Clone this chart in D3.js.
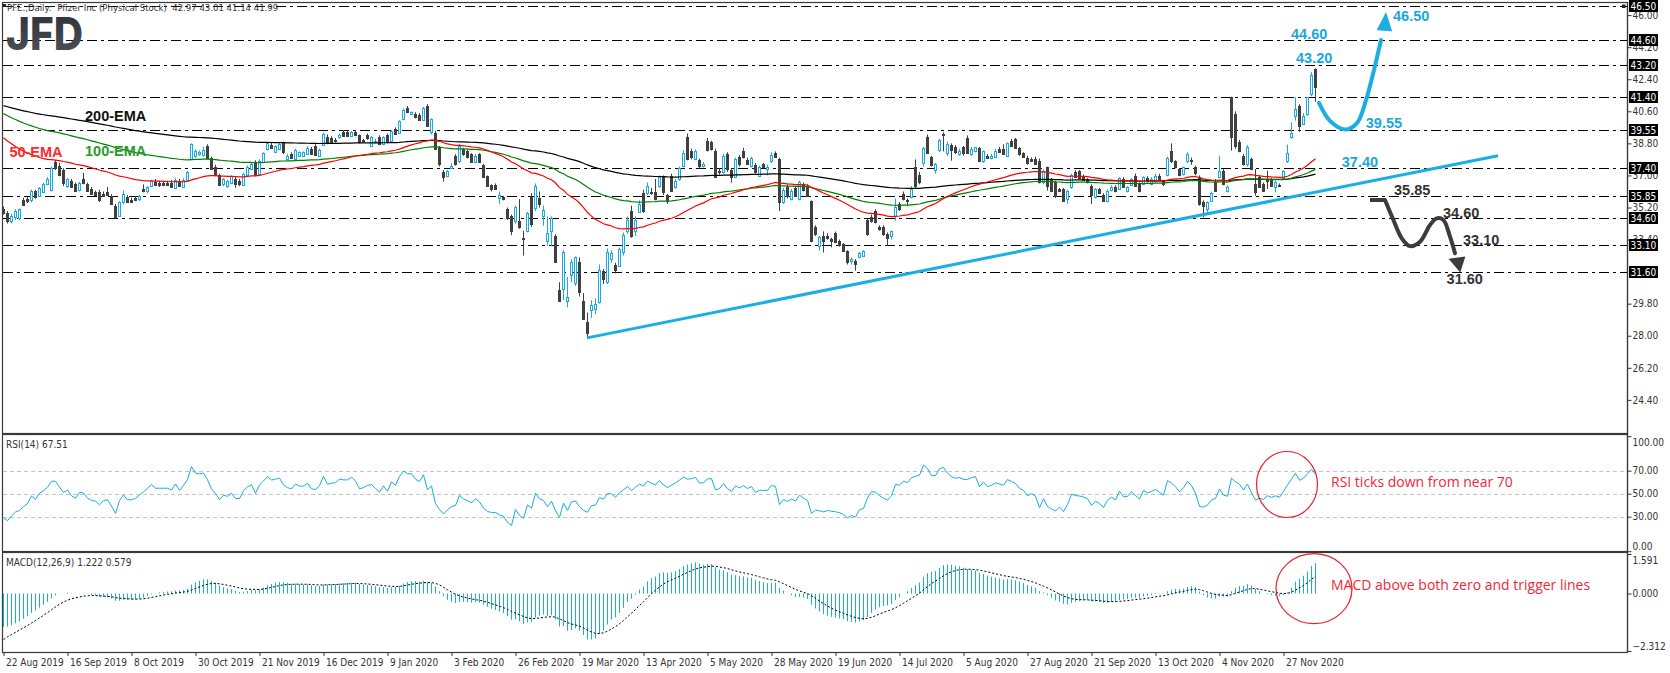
<!DOCTYPE html>
<html><head><meta charset="utf-8">
<script src="https://cdn.jsdelivr.net/npm/d3@7/dist/d3.min.js"></script>
<style>
html,body{margin:0;padding:0;background:#fff;}
svg{display:block;}
text{font-family:"DejaVu Sans Condensed","DejaVu Sans",sans-serif;}
</style></head><body>
<svg id="chart" width="1670" height="673"></svg>
<script>
// ---------- DATA ----------
const tickLabels = ["22 Aug 2019","16 Sep 2019","8 Oct 2019","30 Oct 2019","21 Nov 2019","16 Dec 2019","9 Jan 2020","3 Feb 2020","26 Feb 2020","19 Mar 2020","13 Apr 2020","5 May 2020","28 May 2020","19 Jun 2020","14 Jul 2020","5 Aug 2020","27 Aug 2020","21 Sep 2020","13 Oct 2020","4 Nov 2020","27 Nov 2020"];
const tickBars = [0,16,32,48,64,80,96,112,128,144,160,176,192,208,224,240,256,272,288,304,320];

const opens = [
35.10,34.90,34.45,34.65,34.60,35.60,35.65,35.60,36.10,35.85,
36.05,36.50,36.20,37.75,37.55,37.30,36.40,36.70,36.50,36.20,
36.80,36.50,36.25,36.05,36.05,35.95,36.05,35.85,35.30,34.75,
35.50,35.80,35.60,35.75,35.65,36.25,36.10,36.40,36.65,36.60,
36.60,36.60,36.60,36.30,36.70,36.35,36.75,37.90,38.10,38.20,
38.15,38.65,38.00,37.50,37.00,36.50,36.40,36.60,36.80,36.70,
36.45,37.00,37.35,37.75,37.10,37.75,38.50,38.70,38.30,38.50,
38.85,37.95,38.20,37.90,38.10,38.10,38.20,38.50,38.65,38.10,
38.70,39.15,39.10,39.00,39.14,39.45,39.42,39.23,39.45,39.27,
38.98,39.25,38.67,38.86,39.14,38.76,39.27,38.95,39.60,39.40,
40.17,40.76,40.45,40.45,40.39,40.13,40.91,39.45,39.38,38.57,
37.17,36.95,37.40,38.11,37.83,38.48,38.39,38.20,37.77,38.20,
37.58,36.95,36.46,36.46,35.71,35.77,35.11,34.74,34.46,34.46,
33.50,33.90,35.77,35.15,35.71,34.70,33.33,33.90,33.62,30.56,
30.62,29.97,31.43,30.96,32.15,29.97,28.75,29.46,29.50,29.87,
31.65,31.03,32.30,31.97,31.93,32.68,33.90,34.98,33.90,34.93,
36.01,36.01,36.05,36.09,36.38,36.93,35.92,36.99,36.33,36.80,
37.55,39.18,38.39,37.92,37.87,37.55,38.92,38.86,38.35,37.27,
37.17,38.20,37.31,36.89,38.02,38.39,37.87,37.55,37.61,36.99,
37.64,37.36,37.83,38.24,37.90,35.49,36.37,35.68,36.30,35.68,
36.52,36.43,35.55,34.09,33.06,33.62,33.62,33.43,33.75,33.34,
33.15,32.74,32.21,32.21,32.40,32.50,34.50,34.69,34.98,34.09,
34.09,33.71,33.62,34.74,35.40,35.96,35.62,35.77,37.49,37.04,
37.68,39.18,38.02,37.31,38.43,39.32,38.24,38.73,38.62,38.20,
38.58,39.10,38.20,38.39,38.54,37.83,38.11,37.98,38.05,38.49,
38.49,38.11,38.92,39.05,38.54,38.24,37.98,37.92,37.92,37.83,
36.62,37.46,36.80,36.62,36.24,36.24,35.68,36.33,37.18,37.23,
36.99,36.80,36.43,35.77,36.24,35.92,35.58,36.18,36.37,36.24,
36.80,36.11,36.48,36.99,36.52,36.52,36.86,36.52,36.71,36.99,
36.71,37.04,38.39,37.79,37.36,37.08,37.79,37.87,37.46,36.90,
35.49,35.12,35.58,36.62,36.93,37.23,36.15,41.39,40.45,38.86,
38.11,37.64,37.92,36.52,36.90,36.52,36.80,36.80,36.33,36.48,
36.86,37.79,39.18,40.36,40.90,39.90,40.45,41.55,42.97];

const highs = [
35.25,35.00,34.85,35.10,35.15,35.75,35.80,36.20,36.20,36.35,
36.60,36.90,37.50,37.85,37.70,37.40,36.85,36.80,36.60,36.65,
37.15,36.60,36.35,36.15,36.20,36.10,36.35,35.95,35.40,35.55,
36.15,35.90,35.75,35.85,35.90,36.50,36.40,36.75,36.80,36.70,
36.70,36.70,36.75,36.85,36.80,36.85,37.25,38.80,38.45,38.40,
38.60,38.75,38.05,37.60,37.10,36.85,36.75,37.00,36.90,36.80,
37.15,37.55,37.75,37.85,37.90,38.30,38.85,38.85,38.70,38.85,
38.90,38.20,38.30,38.50,38.35,38.35,38.65,38.60,38.75,38.50,
39.40,39.30,39.20,39.10,39.35,39.55,39.50,39.50,39.55,39.30,
39.05,39.35,39.20,39.05,39.25,39.20,39.35,39.55,39.70,40.10,
40.75,40.90,40.60,40.55,40.50,40.85,41.00,40.20,39.50,38.65,
37.30,37.30,37.70,38.20,38.75,38.55,38.45,38.25,38.20,38.25,
37.65,37.00,36.50,36.55,36.10,35.85,35.20,34.80,35.30,35.67,
33.90,34.95,36.00,36.55,36.10,35.30,34.70,34.70,33.70,31.00,
32.80,31.30,32.30,32.45,32.40,30.40,29.30,30.00,30.10,32.00,
31.75,32.90,32.80,32.10,32.95,33.80,34.70,35.30,34.70,35.60,
36.20,36.60,36.30,36.80,37.00,37.00,35.96,37.10,36.80,37.50,
38.40,39.35,38.50,38.45,37.95,37.75,39.10,38.95,38.50,37.40,
38.20,38.30,37.40,38.00,38.15,38.55,38.00,38.05,37.70,37.55,
37.70,37.60,38.30,38.35,38.00,36.30,36.50,36.25,36.40,36.70,
36.60,36.50,35.60,34.20,33.60,33.86,33.75,33.50,33.85,33.40,
33.20,32.80,32.40,32.30,32.70,32.80,34.55,34.80,35.10,34.20,
34.20,33.80,33.90,35.70,35.50,36.10,35.70,36.40,37.90,37.20,
38.60,39.30,38.10,37.70,39.05,39.42,38.90,38.80,38.70,38.50,
38.65,39.25,38.60,38.60,38.60,38.40,38.20,38.20,38.50,38.60,
38.75,38.85,39.05,39.10,38.60,38.30,38.10,38.00,38.05,37.95,
37.35,37.50,36.85,36.70,36.30,36.30,36.20,37.10,37.30,37.30,
37.05,36.85,36.50,36.30,36.30,36.00,36.20,36.45,36.45,36.90,
36.90,36.40,36.85,37.10,36.60,36.95,36.95,36.90,37.10,37.10,
36.75,38.05,38.80,37.85,37.40,37.50,38.30,38.00,37.55,37.00,
35.60,35.55,36.10,36.80,38.10,37.35,36.45,41.42,40.60,39.00,
38.20,38.70,38.00,37.36,37.00,36.60,37.27,36.85,36.70,36.55,
37.30,38.73,39.98,41.39,41.00,40.50,41.40,42.80,43.01];

const lows = [
34.80,34.30,34.30,34.50,34.50,35.30,35.45,35.50,35.70,35.80,
36.00,36.45,36.10,37.30,36.95,36.40,36.30,36.30,36.10,36.10,
36.50,36.10,35.90,35.85,35.50,35.80,35.85,35.35,34.55,34.70,
35.40,35.45,35.45,35.55,35.55,36.05,36.00,36.35,36.40,36.35,
36.40,36.40,36.30,36.25,36.35,36.30,36.70,37.85,38.00,38.10,
38.05,37.95,37.30,36.95,36.40,36.40,36.30,36.55,36.30,36.40,
36.40,36.95,37.30,36.95,37.00,37.70,38.40,38.50,38.25,38.45,
38.20,37.90,37.95,37.85,38.05,38.05,38.15,38.15,38.10,38.05,
38.65,38.75,38.85,38.85,39.05,39.20,39.20,39.15,39.20,38.80,
38.85,39.00,38.60,38.80,38.70,38.70,38.80,38.90,39.30,39.35,
40.10,40.50,40.40,40.20,40.05,40.05,39.75,39.30,38.45,37.50,
36.65,36.90,37.35,37.55,37.70,38.10,37.95,37.70,37.70,37.70,
36.85,36.40,36.10,36.20,35.40,35.60,34.50,33.65,34.30,34.00,
32.50,33.80,34.10,35.00,35.20,34.18,33.05,33.05,32.10,29.90,
30.00,29.60,31.00,30.80,30.20,28.90,27.88,29.00,29.20,29.80,
30.90,30.90,32.10,31.50,31.85,32.50,33.70,33.50,33.60,34.90,
34.90,35.90,35.90,35.60,36.30,35.90,35.40,36.10,36.25,36.70,
37.45,37.85,37.90,37.85,37.40,37.45,38.35,38.40,36.85,37.05,
37.10,37.20,36.60,36.85,37.50,37.95,37.60,37.45,37.10,36.90,
37.40,37.00,37.70,38.00,35.00,35.40,35.70,35.60,35.80,35.60,
36.10,35.80,33.25,33.60,32.78,32.68,33.40,32.96,33.20,33.00,
32.70,32.00,32.00,31.65,32.35,32.45,33.60,34.35,34.30,33.90,
33.60,33.06,33.40,34.46,35.00,35.60,35.30,35.70,36.30,36.50,
37.50,38.20,37.50,37.10,38.30,38.35,38.10,37.83,38.20,38.10,
38.10,38.20,38.10,38.30,37.75,37.70,37.95,37.90,38.00,38.30,
38.20,38.05,38.60,38.50,38.10,38.00,37.60,37.75,37.60,36.55,
36.50,36.15,36.10,35.73,36.10,35.55,35.40,36.25,36.85,36.80,
36.70,36.55,35.40,35.70,35.95,35.55,35.50,36.10,36.05,36.20,
36.30,36.05,36.40,36.40,36.05,36.45,36.60,36.45,36.60,36.70,
36.40,36.95,37.70,37.40,36.95,37.00,37.70,37.60,37.00,35.30,
34.65,34.90,35.50,36.10,36.85,36.45,36.05,38.39,38.50,38.30,
37.55,37.50,37.30,35.86,36.30,36.10,36.24,36.35,36.05,36.35,
36.80,37.70,39.05,40.08,39.45,39.85,40.35,41.45,41.14];

const closes = [
34.90,34.45,34.75,35.00,35.10,35.35,35.55,36.10,35.80,36.30,
36.50,36.80,37.40,37.40,37.00,36.60,36.80,36.35,36.15,36.60,
36.55,36.15,35.95,35.90,35.60,35.85,35.90,35.40,34.65,35.50,
35.95,35.50,35.50,35.60,35.85,36.10,36.35,36.70,36.45,36.45,
36.45,36.45,36.35,36.75,36.40,36.75,37.20,38.75,38.35,38.30,
38.40,38.00,37.35,37.00,36.45,36.80,36.70,36.95,36.50,36.50,
37.10,37.45,37.65,37.00,37.80,38.25,38.80,38.55,38.65,38.76,
38.30,38.10,38.00,38.45,38.30,38.30,38.55,38.20,38.15,38.45,
39.30,38.80,38.90,38.95,39.27,39.23,39.23,39.45,39.27,38.86,
38.93,39.08,39.14,38.95,38.76,39.14,38.86,39.51,39.32,40.07,
40.69,40.54,40.54,40.26,40.13,40.76,39.79,40.17,38.48,37.64,
36.89,37.26,37.55,37.64,38.63,38.20,38.01,37.73,38.11,37.73,
36.89,36.42,36.24,36.24,35.90,35.67,34.59,33.90,35.21,34.08,
33.45,34.89,34.27,36.40,35.39,35.08,33.76,34.60,32.15,29.97,
32.68,30.15,32.15,32.40,30.43,28.94,28.15,29.72,29.78,31.69,
31.20,32.68,32.62,31.69,32.87,33.65,34.51,33.58,34.51,35.39,
34.98,36.42,36.01,35.67,36.89,36.05,35.55,36.15,36.71,37.42,
38.24,37.92,38.05,38.35,37.55,37.64,38.43,38.48,36.93,37.17,
38.11,37.36,36.93,37.92,37.64,38.05,37.64,37.98,37.17,37.49,
37.49,37.49,38.17,38.05,35.50,36.18,35.86,36.15,35.86,36.61,
36.18,35.86,33.30,33.71,33.56,33.34,33.49,33.34,33.24,33.09,
32.74,32.12,32.31,32.03,32.63,32.74,33.71,34.42,34.37,33.99,
33.71,33.49,33.86,35.21,35.12,35.68,35.55,36.24,36.43,36.61,
38.54,38.24,37.61,37.64,38.99,39.27,38.77,38.43,38.30,38.39,
38.24,38.24,38.48,38.58,37.83,38.35,37.98,38.11,38.39,38.30,
38.21,38.80,38.67,38.54,38.21,38.06,37.68,37.83,37.64,36.62,
37.27,36.43,36.15,35.86,36.15,35.58,36.11,37.04,36.90,36.86,
36.75,36.62,35.92,36.24,36.00,35.58,36.11,36.37,36.11,36.86,
36.33,36.37,36.80,36.43,36.11,36.90,36.67,36.80,36.99,36.75,
36.52,37.98,37.79,37.49,37.04,37.46,38.21,37.83,37.12,35.40,
35.30,35.49,36.00,36.15,37.23,36.52,36.37,39.14,38.67,38.39,
37.64,38.62,37.36,36.05,36.37,36.15,36.71,36.43,36.65,36.43,
37.23,38.24,39.37,40.73,39.80,40.32,41.38,42.62,41.99];

// horizontal support / resistance levels and axis ticks
const levels = [46.50,44.60,43.20,41.40,39.55,37.40,35.85,34.60,33.10,31.60];
const priceTicks = [46.00,44.20,42.40,40.60,38.80,37.00,35.20,33.40,29.80,28.00,26.20,24.40];
const rsiTicks = [100,70,50,30,0];
const rsiLevels = [70,50,30];
const macdTicks = [1.591,0,-2.312];
const macdRange = [-2.312,1.591];
// indicator values at the first visible bar
const emaStart = {e50:39.12, e100:40.47, e200:40.92};
const rsiStart = {gain:0.11, loss:0.27};
const macdStart = {ema12:35.45, ema26:36.80, signal:-1.85};

// trendline and annotations (bar index, price)
const trendBars = [146, 373.75];
const trendPrices = [27.88, 38.11];
const upArrowBars   = [329.0,331.75,335.5,338.5,340.75,342.75,344.5];
const upArrowPrices = [41.07,40.06,39.58,39.94,41.23,42.92,44.60];
const upHeadBars = [345.75,343.4,347.3];
const upHeadPrices = [46.18,45.15,45.10];
const dnArrowBars   = [341.75,345.5,347.6,349.7,351.75,354.25,356.75,358.4,360.1,361.75,363.0];
const dnArrowPrices = [35.62,35.62,34.50,33.47,33.03,33.28,34.22,34.59,34.50,33.56,32.63];
const dnHeadBars = [364.3,361.4,365.6];
const dnHeadPrices = [31.55,32.32,32.45];
const blueLabels = [{t:"46.50",b:347.5,p:45.95},{t:"44.60",b:322,p:44.94},{t:"43.20",b:323.25,p:43.58},{t:"39.55",b:340.7,p:39.93},{t:"37.40",b:334.7,p:37.74}];
const darkLabels = [{t:"35.85",b:347.75,p:36.22},{t:"34.60",b:360,p:34.93},{t:"33.10",b:365,p:33.41},{t:"31.60",b:360.9,p:31.20}];

// ---------- CHECK ----------
const n = closes.length;
if (![opens,highs,lows].every(a=>a.length===n)) throw new Error('length mismatch '+[opens.length,highs.length,lows.length,n]);

// ---------- INDICATORS ----------
function emaSeries(vals, period, seed){const k=2/(period+1);let e=seed;return vals.map((v,i)=>{if(i>0)e=e+k*(v-e);return e;});}
const ema50 = emaSeries(closes,50,emaStart.e50);
const ema100 = emaSeries(closes,100,emaStart.e100);
const ema200 = emaSeries(closes,200,emaStart.e200);
const rsi=[];{let ag=rsiStart.gain,al=rsiStart.loss;closes.forEach((c,i)=>{if(i>0){const d=c-closes[i-1];ag=(ag*13+Math.max(d,0))/14;al=(al*13+Math.max(-d,0))/14;}rsi.push(100-100/(1+ag/al));});}
const e12=emaSeries(closes,12,macdStart.ema12), e26=emaSeries(closes,26,macdStart.ema26);
const macd=e12.map((v,i)=>v-e26[i]);
const signal=emaSeries(macd,9,macdStart.signal);

// ---------- SCALES ----------
const AX=1627;
const x = d3.scaleLinear().domain([0,406]).range([3,AX]);
const y = d3.scaleLinear().domain([46.68,22.54]).range([3,433]);
const yR = d3.scaleLinear().domain([0,100]).range([551.2,436.2]);
const yM = d3.scaleLinear().domain(macdRange).range([651,554]);
const BLUE="#17ade0", DARK="#404040", CYAN="#1aaee2";

const svg=d3.select('#chart');
const defs=svg.append('defs');
[['cMain',3,433],['cRsi',435,551],['cMacd',553,652]].forEach(([id,t,b])=>{
  defs.append('clipPath').attr('id',id).append('rect').attr('x',3).attr('y',t).attr('width',AX-3).attr('height',b-t);
});
const grad=defs.append('linearGradient').attr('id','logoG').attr('x1',0).attr('y1',0).attr('x2',0).attr('y2',1);
grad.append('stop').attr('offset','0').attr('stop-color','#2b2e34');
grad.append('stop').attr('offset','1').attr('stop-color','#50545c');

// panel frames
[[3,433],[435,551],[553,652]].forEach(([t,b])=>{
  svg.append('rect').attr('x',2.5).attr('y',t-0.5).attr('width',AX-2).attr('height',b-t+1)
    .attr('fill','none').attr('stroke','#3a3a3a').attr('stroke-width',1.2);
});

// ---------- MAIN PANEL ----------
const gMain=svg.append('g').attr('clip-path','url(#cMain)');
gMain.selectAll('line.lvl').data(levels).join('line').attr('class','lvl')
  .attr('x1',3).attr('x2',AX).attr('y1',d=>Math.round(y(d))+0.5).attr('y2',d=>Math.round(y(d))+0.5)
  .attr('stroke','#000').attr('stroke-width',1).attr('stroke-dasharray','10,4,3,4');
svg.append('rect').attr('x',AX-5).attr('y',Math.round(y(46.5))-1.5).attr('width',3.5).attr('height',3.5).attr('fill','#222');

const bars=d3.range(n).map(i=>({i,o:opens[i],h:highs[i],l:lows[i],c:closes[i]}));
const cg=gMain.append('g');
bars.forEach(d=>{
  const cx=Math.round(x(d.i));
  const bull=d.c>=d.o;
  const col=bull?BLUE:DARK;
  const top=y(Math.max(d.o,d.c)), bot=y(Math.min(d.o,d.c));
  const hi=y(Math.max(d.h,d.o,d.c)), lo=y(Math.min(d.l,d.o,d.c));
  cg.append('line').attr('x1',cx+0.5).attr('x2',cx+0.5).attr('y1',hi).attr('y2',lo).attr('stroke',col).attr('stroke-width',1);
  if(bull){
    cg.append('rect').attr('x',cx-0.5).attr('y',Math.round(top)+0.5).attr('width',2).attr('height',Math.max(1,Math.round(bot)-Math.round(top)))
      .attr('fill','#fff').attr('stroke',col).attr('stroke-width',1);
  } else {
    cg.append('rect').attr('x',cx-1).attr('y',Math.round(top)).attr('width',3).attr('height',Math.max(1,Math.round(bot)-Math.round(top)+1)).attr('fill',col);
  }
});
const lineP=d3.line().x((d,i)=>x(i)+0.5).y(d=>y(d));
gMain.append('path').attr('d',lineP(ema200)).attr('fill','none').attr('stroke','#000').attr('stroke-width',1.2);
gMain.append('path').attr('d',lineP(ema100)).attr('fill','none').attr('stroke','#008000').attr('stroke-width',1.2);
gMain.append('path').attr('d',lineP(ema50)).attr('fill','none').attr('stroke','#ff0000').attr('stroke-width',1.2);

gMain.append('line').attr('x1',x(trendBars[0])).attr('y1',y(trendPrices[0])).attr('x2',x(trendBars[1])).attr('y2',y(trendPrices[1]))
  .attr('stroke',CYAN).attr('stroke-width',3);

const curve=d3.line().x(d=>x(d[0])).y(d=>y(d[1])).curve(d3.curveCatmullRom.alpha(0.5));
gMain.append('path').attr('d',curve(upArrowBars.map((b,i)=>[b,upArrowPrices[i]]))).attr('fill','none').attr('stroke',CYAN).attr('stroke-width',4).attr('stroke-linecap','round');
gMain.append('polygon').attr('points',upHeadBars.map((b,i)=>x(b)+','+y(upHeadPrices[i])).join(' ')).attr('fill',CYAN);
const dnPts=dnArrowBars.map((b,i)=>[b,dnArrowPrices[i]]);
gMain.append('path').attr('d',d3.line().x(d=>x(d[0])).y(d=>y(d[1]))(dnPts.slice(0,2))).attr('fill','none').attr('stroke','#3c3c3c').attr('stroke-width',4);
gMain.append('path').attr('d',curve(dnPts.slice(1))).attr('fill','none').attr('stroke','#3c3c3c').attr('stroke-width',4).attr('stroke-linecap','round');
gMain.append('polygon').attr('points',dnHeadBars.map((b,i)=>x(b)+','+y(dnHeadPrices[i])).join(' ')).attr('fill','#3c3c3c');

const lab=(arr,col)=>svg.selectAll(null).data(arr).join('text').attr('x',d=>x(d.b)).attr('y',d=>y(d.p)).attr('dy','0.36em')
  .attr('fill',col).style('font-family','"Liberation Sans",Arial,sans-serif').style('font-weight','bold').style('font-size','14.5px').text(d=>d.t);
lab(blueLabels,'#1aa7dc'); lab(darkLabels,'#333');

const emaLab=[{t:"200-EMA",b:20.5,p:40.34,c:'#111'},{t:"100-EMA",b:20.5,p:38.39,c:'#2a9a2a'},{t:"50-EMA",b:1.6,p:38.30,c:'#ff2a2a'}];
svg.selectAll(null).data(emaLab).join('text').attr('x',d=>x(d.b)).attr('y',d=>y(d.p)).attr('dy','0.36em').attr('fill',d=>d.c)
  .style('font-family','"Liberation Sans",Arial,sans-serif').style('font-weight','bold').style('font-size','14.5px').text(d=>d.t);

svg.append('rect').attr('x',3).attr('y',4).attr('width',3).attr('height',3).attr('fill','#222');
svg.append('text').attr('x',7).attr('y',11).attr('fill','#333').style('font-size','9.5px').style('white-space','pre')
  .text('PFE.,Daily:  Pfizer Inc (Physical Stock)  42.97 43.01 41.14 41.99');
svg.append('text').attr('x',6).attr('y',50).attr('fill','url(#logoG)').attr('textLength',77).attr('lengthAdjust','spacingAndGlyphs')
  .style('font-family','Inter,Roboto,sans-serif').style('font-weight','800').style('font-size','45px').text('JFD');

// price axis
const pAxis=svg.append('g').attr('transform',`translate(${AX+0.5},0)`)
  .call(d3.axisRight(y).tickValues(priceTicks).tickSize(4).tickPadding(1).tickFormat(d3.format('.2f')));
pAxis.select('.domain').remove();
pAxis.selectAll('line').attr('stroke','#333');
pAxis.selectAll('text').attr('fill','#333').style('font-size','10px').style('font-family','"DejaVu Sans Condensed","DejaVu Sans",sans-serif');
svg.append('line').attr('x1',AX+0.5).attr('x2',AX+0.5).attr('y1',2).attr('y2',652).attr('stroke','#3a3a3a').attr('stroke-width',1.2);
const boxes=svg.append('g').selectAll('g').data(levels).join('g').attr('transform',d=>`translate(${AX+2},${Math.round(y(d))})`);
boxes.append('rect').attr('x',0).attr('y',-6).attr('width',29).attr('height',12).attr('fill','#000');
boxes.append('text').attr('x',1.5).attr('y',0).attr('dy','0.36em').attr('fill','#fff').style('font-size','10px').text(d=>d3.format('.2f')(d));

// ---------- RSI PANEL ----------
const gR=svg.append('g').attr('clip-path','url(#cRsi)');
gR.selectAll('line').data(rsiLevels).join('line').attr('x1',3).attr('x2',AX).attr('y1',d=>Math.round(yR(d))+0.5).attr('y2',d=>Math.round(yR(d))+0.5)
  .attr('stroke','#c4c4c4').attr('stroke-dasharray','4,3');
gR.append('path').attr('d',d3.line().x((d,i)=>x(i)+0.5).y(d=>yR(d))(rsi)).attr('fill','none').attr('stroke',BLUE).attr('stroke-width',1);
svg.append('text').attr('x',6).attr('y',448).attr('fill','#333').style('font-size','10px').text('RSI(14) 67.51');
const rAxis=svg.append('g').attr('transform',`translate(${AX+0.5},0)`)
  .call(d3.axisRight(yR).tickValues(rsiTicks).tickSize(4).tickPadding(1).tickFormat(d3.format('.2f')));
rAxis.select('.domain').remove();
rAxis.selectAll('line').attr('stroke','#333');
rAxis.selectAll('text').attr('fill','#333').style('font-size','10px').attr('dy',d=>d===100?'0.9em':(d===0?'-0.2em':'0.32em'));

// ---------- MACD PANEL ----------
const gM=svg.append('g').attr('clip-path','url(#cMacd)');
gM.selectAll('line').data(macd).join('line').attr('x1',(d,i)=>Math.round(x(i))+0.5).attr('x2',(d,i)=>Math.round(x(i))+0.5)
  .attr('y1',yM(0)).attr('y2',d=>yM(d)).attr('stroke',BLUE).attr('stroke-width',1);
gM.append('path').attr('d',d3.line().x((d,i)=>x(i)+0.5).y(d=>yM(d))(signal)).attr('fill','none').attr('stroke','#000').attr('stroke-width',1).attr('stroke-dasharray','2,2');
svg.append('text').attr('x',6).attr('y',566).attr('fill','#333').style('font-size','10px').text('MACD(12,26,9) 1.222 0.579');
const mAxis=svg.append('g').attr('transform',`translate(${AX+0.5},0)`)
  .call(d3.axisRight(yM).tickValues(macdTicks).tickSize(4).tickPadding(1).tickFormat(d3.format('.3f')));
mAxis.select('.domain').remove();
mAxis.selectAll('line').attr('stroke','#333');
mAxis.selectAll('text').attr('fill','#333').style('font-size','10px').attr('dy',d=>d===macdTicks[0]?'0.9em':(d===macdTicks[2]?'-0.2em':'0.32em'));

svg.append('ellipse').attr('cx',x(321)).attr('cy',yR(58)).attr('rx',30.5).attr('ry',33).attr('fill','none').attr('stroke','#e8202a').attr('stroke-width',1.2);
svg.append('ellipse').attr('cx',x(327.75)).attr('cy',yM(0.2)).attr('rx',38).attr('ry',35).attr('fill','none').attr('stroke','#e8202a').attr('stroke-width',1.2);
svg.append('text').attr('x',1331).attr('y',yR(60)).attr('dy','0.36em').attr('fill','#f0283a').style('font-family','"Open Sans",sans-serif').style('font-size','14px').text('RSI ticks down from near 70');
svg.append('text').attr('x',1331).attr('y',yM(0.35)).attr('dy','0.36em').attr('fill','#f0283a').style('font-family','"Open Sans",sans-serif').style('font-size','14px').text('MACD above both zero and trigger lines');

// ---------- TIME AXIS ----------
const tAxis=svg.append('g').attr('transform','translate(0.5,652)')
  .call(d3.axisBottom(x).tickValues(tickBars).tickSize(4).tickPadding(3).tickFormat((d,i)=>tickLabels[i]));
tAxis.select('.domain').remove();
tAxis.selectAll('line').attr('stroke','#333');
tAxis.selectAll('text').attr('fill','#333').style('font-size','10px').attr('text-anchor','start').attr('dx','2');
</script>
</body></html>
